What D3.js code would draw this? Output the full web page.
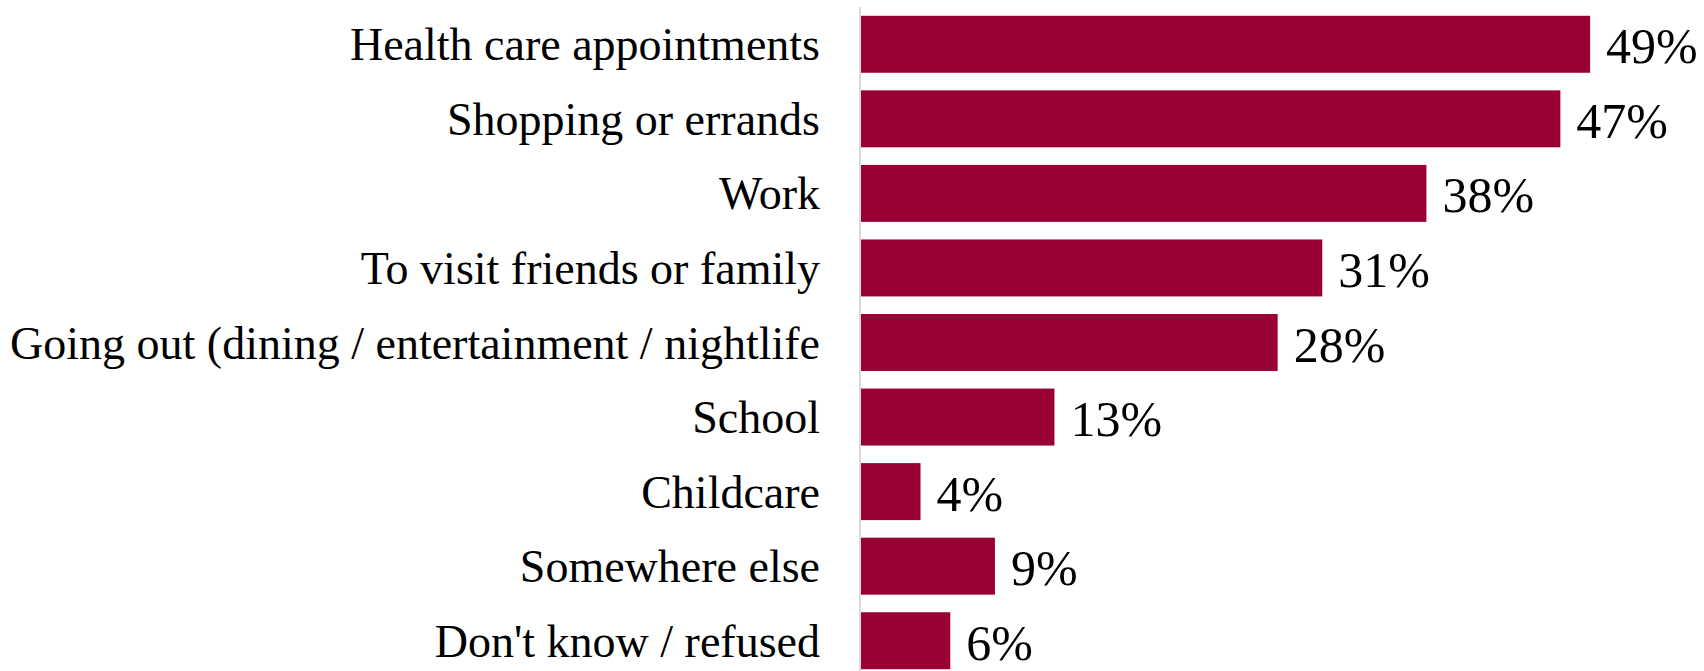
<!DOCTYPE html>
<html>
<head>
<meta charset="utf-8">
<script src="https://cdn.jsdelivr.net/npm/d3@7"></script>
<style>
  html, body { margin: 0; padding: 0; background: #ffffff; }
  svg { display: block; }
</style>
</head>
<body>
<svg id="chart" width="1704" height="671"></svg>
<script>
// Reasons for trips, share of respondents (%)
const categories = [
  "Health care appointments",
  "Shopping or errands",
  "Work",
  "To visit friends or family",
  "Going out (dining / entertainment / nightlife",
  "School",
  "Childcare",
  "Somewhere else",
  "Don't know / refused"
];
const values = [49, 47, 38, 31, 28, 13, 4, 9, 6];
const axisDomain = [0, 50];

const svg = d3.select("#chart");
const W = 1704, H = 671;
const axisX = 861;

const x = d3.scaleLinear().domain(axisDomain).range([axisX, 1605]);
const y = d3.scaleBand()
  .domain(categories)
  .range([7, 678])
  .paddingInner(0.236)
  .paddingOuter(0.118);

const data = categories.map((c, i) => ({ cat: c, val: values[i] }));

// bars
svg.append("g")
  .selectAll("rect")
  .data(data)
  .join("rect")
  .attr("x", x(0))
  .attr("y", d => y(d.cat))
  .attr("width", d => x(d.val) - x(0))
  .attr("height", y.bandwidth())
  .attr("fill", "#990033");

// category axis line
svg.append("line")
  .attr("x1", axisX - 1).attr("x2", axisX - 1)
  .attr("y1", 7).attr("y2", H)
  .attr("stroke", "#d9d9d9")
  .attr("stroke-width", 2);

// category labels
svg.append("g")
  .selectAll("text")
  .data(data)
  .join("text")
  .attr("x", 820)
  .attr("y", d => y(d.cat) + y.bandwidth() / 2 + 16)
  .attr("text-anchor", "end")
  .attr("font-family", "'Liberation Serif', serif")
  .attr("font-size", 46)
  .attr("fill", "#000")
  .text(d => d.cat);

// value labels
svg.append("g")
  .selectAll("text")
  .data(data)
  .join("text")
  .attr("x", d => x(d.val) + 16)
  .attr("y", d => y(d.cat) + y.bandwidth() / 2 + 19)
  .attr("text-anchor", "start")
  .attr("font-family", "'Liberation Serif', serif")
  .attr("font-size", 50)
  .attr("fill", "#000")
  .text(d => d.val + "%");
</script>
</body>
</html>
